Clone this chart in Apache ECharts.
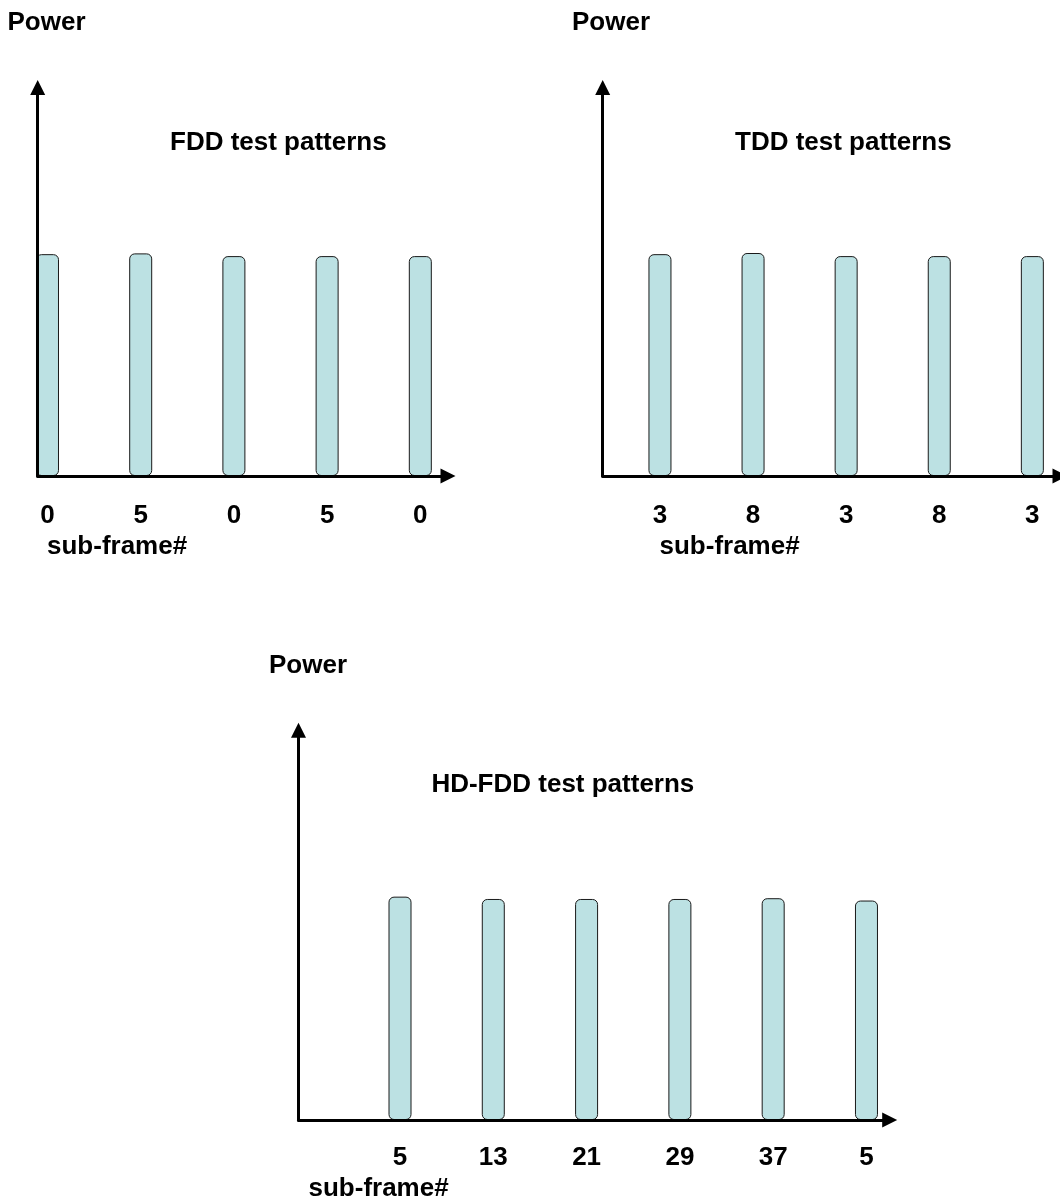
<!DOCTYPE html>
<html>
<head>
<meta charset="utf-8">
<script src="https://cdn.jsdelivr.net/npm/echarts@6/dist/echarts.min.js"></script>
<style>
  html, body { margin: 0; padding: 0; background: #fff; }
  #chart { width: 1060px; height: 1200px; }
</style>
</head>
<body>
<div id="chart"></div>
<script>
// Sub-frame numbers under each burst and the relative transmit power of each burst
const fddTicks = ['0', '5', '0', '5', '0'];
const fddPower = [57.1, 57.3, 56.6, 56.6, 56.6];

const tddTicks = ['3', '8', '3', '8', '3'];
const tddPower = [57.1, 57.4, 56.6, 56.6, 56.6];

const hdTicks = ['5', '13', '21', '29', '37', '5'];
const hdPower = [57.3, 56.7, 56.7, 56.7, 56.9, 56.3];

const panelTitles = ['FDD test patterns', 'TDD test patterns', 'HD-FDD test patterns'];
const yName = 'Power';
const xName = 'sub-frame#';

const FONT = "'Liberation Sans', Arial, sans-serif";
const textStyle = { fontFamily: FONT, fontSize: 26, fontWeight: 'bold', color: '#000' };

const axisLine = {
  show: true,
  onZero: false,
  symbol: ['none', 'triangle'],
  symbolSize: [15, 15],
  lineStyle: { color: '#000', width: 3 }
};

function xAxisFor(gridIndex, ticks, min, max, margin) {
  return {
    type: 'value', gridIndex, min, max, z: 3,
    axisLine,
    axisTick: { show: false },
    splitLine: { show: false },
    axisLabel: {
      customValues: ticks.map((_, i) => i),
      formatter: v => ticks[Math.round(v)] ?? '',
      margin,
      fontFamily: FONT, fontSize: 26, fontWeight: 'bold', color: '#000'
    }
  };
}

function yAxisFor(gridIndex) {
  return {
    type: 'value', gridIndex, min: 0, max: 100, z: 3,
    axisLine,
    axisTick: { show: false },
    axisLabel: { show: false },
    splitLine: { show: false }
  };
}

function barsFor(index, values) {
  return {
    type: 'bar',
    xAxisIndex: index, yAxisIndex: index,
    barWidth: 23,
    z: 2,
    itemStyle: { color: '#BCE1E3', borderColor: '#1a1a1a', borderWidth: 1, borderRadius: 5 },
    data: values.map((v, i) => [i, v])
  };
}

const titleAt = (text, left, top) => ({ text, left, top, padding: 0, textStyle });

const option = {
  animation: false,
  backgroundColor: '#fff',
  title: [
    titleAt(yName, 7.5, 9.5),
    titleAt(yName, 572, 9.5),
    titleAt(yName, 269, 653),
    titleAt(panelTitles[0], 170, 130.3),
    titleAt(panelTitles[1], 735, 130.3),
    titleAt(panelTitles[2], 431.4, 772),
    titleAt(xName, 47, 534),
    titleAt(xName, 659.5, 534),
    titleAt(xName, 308.5, 1176)
  ],
  grid: [
    { left: 37.7, top: 87.5, width: 410.3, height: 388.5 },
    { left: 602.7, top: 87.5, width: 457.8, height: 388.5 },
    { left: 298.5, top: 730.2, width: 591.2, height: 389.8 }
  ],
  xAxis: [
    xAxisFor(0, fddTicks, -0.105, 4.297, 27),
    xAxisFor(1, tddTicks, -0.615, 4.297, 27),
    xAxisFor(2, hdTicks, -1.088, 5.249, 25)
  ],
  yAxis: [yAxisFor(0), yAxisFor(1), yAxisFor(2)],
  series: [
    barsFor(0, fddPower),
    barsFor(1, tddPower),
    barsFor(2, hdPower)
  ]
};

echarts.init(document.getElementById('chart'), null, { renderer: 'canvas' }).setOption(option);
</script>
</body>
</html>
